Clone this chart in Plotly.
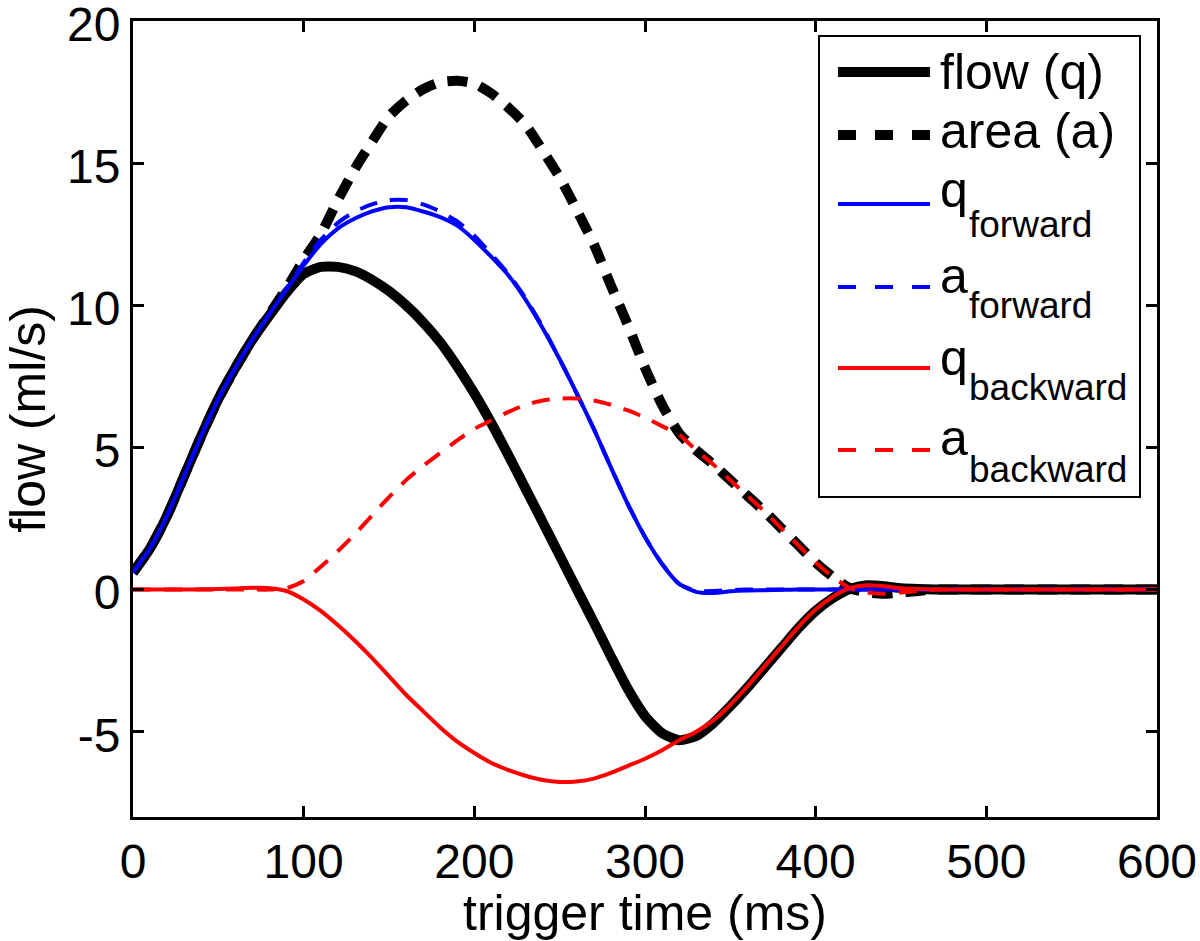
import plotly.graph_objects as go

# trigger time (ms), 10 ms grid
t = list(range(0, 610, 10))

flow_q = [0.6, 1.45, 2.6, 4.0, 5.4, 6.7, 7.8, 8.8, 9.65, 10.45,
          11.1, 11.35, 11.35, 11.2, 10.9, 10.5, 10.0, 9.4, 8.7, 7.85,
          6.9, 5.85, 4.72, 3.55, 2.38, 1.2, 0.02, -1.15, -2.35, -3.5,
          -4.45, -5.05, -5.3, -5.15, -4.7, -4.1, -3.45, -2.75, -2.05, -1.35,
          -0.75, -0.3, 0.02, 0.15, 0.12, 0.05, 0.02, 0, 0, 0,
          0, 0, 0, 0, 0, 0, 0, 0, 0, 0, 0]

area_a = [0.6, 1.45, 2.6, 4.0, 5.4, 6.7, 7.8, 8.8, 9.7, 10.6,
          11.6, 12.5, 13.7, 14.8, 15.75, 16.65, 17.2, 17.6, 17.85, 17.9,
          17.8, 17.45, 16.95, 16.35, 15.45, 14.5, 13.35, 12.15, 10.7, 9.3,
          7.8, 6.5, 5.5, 4.9, 4.4, 3.85, 3.3, 2.75, 2.15, 1.55,
          0.95, 0.45, 0.05, -0.1, -0.15, -0.1, -0.05, 0, 0, 0,
          0, 0, 0, 0, 0, 0, 0, 0, 0, 0, 0]

q_forward = [0.6, 1.45, 2.6, 4.0, 5.4, 6.7, 7.8, 8.8, 9.7, 10.55,
             11.4, 12.15, 12.7, 13.05, 13.3, 13.45, 13.45, 13.3, 13.1, 12.8,
             12.3, 11.7, 11.05, 10.2, 9.2, 8.1, 6.9, 5.65, 4.3, 3.0,
             1.85, 0.9, 0.2, -0.08, -0.12, -0.06, -0.03, -0.02, -0.01, 0,
             0, 0, 0, 0, 0, 0, 0, 0, 0, 0,
             0, 0, 0, 0, 0, 0, 0, 0, 0, 0, 0]

a_forward = [0.6, 1.45, 2.6, 4.0, 5.4, 6.7, 7.8, 8.8, 9.7, 10.6,
             11.5, 12.3, 12.9, 13.3, 13.55, 13.7, 13.7, 13.55, 13.3, 12.95,
             12.45, 11.8, 11.1, 10.25, 9.25, 8.1, 6.9, 5.65, 4.3, 3.0,
             1.85, 0.9, 0.2, -0.05, -0.05, -0.02, 0, 0, 0, 0,
             0, 0, 0, 0, 0, 0, 0, 0, 0, 0,
             0, 0, 0, 0, 0, 0, 0, 0, 0, 0, 0]

q_backward = [0, 0, 0, 0, 0.01, 0.02, 0.04, 0.06, 0.05, -0.05,
              -0.35, -0.75, -1.25, -1.8, -2.4, -3.05, -3.7, -4.28, -4.85, -5.35,
              -5.75, -6.1, -6.35, -6.55, -6.7, -6.77, -6.75, -6.65, -6.45, -6.2,
              -5.95, -5.65, -5.3, -5.0, -4.6, -4.05, -3.4, -2.7, -2.0, -1.3,
              -0.7, -0.25, 0.05, 0.15, 0.12, 0.05, 0.02, 0, 0, 0,
              0, 0, 0, 0, 0, 0, 0, 0, 0, 0, 0]

a_backward = [0, 0, 0, 0, 0, 0, 0, 0, 0, 0.05,
              0.3, 0.8, 1.35, 1.95, 2.6, 3.25, 3.85, 4.35, 4.8, 5.25,
              5.65, 5.95, 6.25, 6.5, 6.65, 6.72, 6.72, 6.65, 6.5, 6.3,
              6.05, 5.75, 5.45, 4.9, 4.4, 3.85, 3.3, 2.75, 2.15, 1.55,
              0.95, 0.45, 0.05, -0.1, -0.15, -0.1, -0.05, 0, 0, 0,
              0, 0, 0, 0, 0, 0, 0, 0, 0, 0, 0]

x_ticks = [0, 100, 200, 300, 400, 500, 600]
y_ticks = [-5, 0, 5, 10, 15, 20]
y_ticktext = ["-5", "0", "5", "10", "15", "20"]

legend_main = ["flow (q)", "area (a)", "q", "a", "q", "a"]
legend_sub = ["", "", "forward", "forward", "backward", "backward"]

FONT = "Liberation Sans, Arial, Helvetica, sans-serif"

# (values, colour, width, dash in plot, dash in legend)
series = [
    (flow_q, "black", 10, "solid", "solid"),
    (area_a, "black", 10, "20px,13px", "18px,19px"),
    (q_forward, "#0000ff", 4, "solid", "solid"),
    (a_forward, "#0000ff", 4, "18px,13px", "18px,19px"),
    (q_backward, "#ff0000", 4, "solid", "solid"),
    (a_backward, "#ff0000", 4, "18px,13px", "18px,19px"),
]

# plot area in page pixels
X0, X1, Y0, Y1 = 133, 1157, 21, 817


def px(x):
    return (x - X0) / (X1 - X0)


def py(y):
    return (Y1 - y) / (Y1 - Y0)


fig = go.Figure()
for (vals, color, width, dash, _), main, sub in zip(series, legend_main, legend_sub):
    name = f"{main}<sub>{sub}</sub>" if sub else main
    fig.add_trace(go.Scatter(
        x=t, y=vals, name=name, mode="lines", showlegend=False,
        line=dict(color=color, width=width, dash=dash, shape="spline", smoothing=0.6),
    ))

# hand-drawn legend (MATLAB style, big subscripts)
line_y = [72, 135, 204, 287, 368, 450]
main_y = [72.5, 130.5, 189.5, 275.5, 357.5, 437.5]
sub_y = [None, None, 224, 305, 387, 469]

shapes = [dict(type="rect", xref="paper", yref="paper",
               x0=px(819), x1=px(1140), y0=py(497), y1=py(36),
               line=dict(color="black", width=2), fillcolor="white", layer="above")]
annotations = []
for i, (vals, color, width, _, ldash) in enumerate(series):
    shapes.append(dict(type="line", xref="paper", yref="paper",
                       x0=px(838), x1=px(930), y0=py(line_y[i]), y1=py(line_y[i]),
                       line=dict(color=color, width=width, dash=ldash), layer="above"))
    annotations.append(dict(text=legend_main[i], xref="paper", yref="paper",
                            x=px(938), y=py(main_y[i]), xanchor="left", yanchor="middle",
                            showarrow=False, font=dict(family=FONT, size=50, color="black")))
    if legend_sub[i]:
        annotations.append(dict(text=legend_sub[i], xref="paper", yref="paper",
                                x=px(967), y=py(sub_y[i]), xanchor="left", yanchor="middle",
                                showarrow=False, font=dict(family=FONT, size=37, color="black")))

axis_common = dict(
    showline=True, linecolor="black", linewidth=3,
    mirror="allticks", ticks="inside", ticklen=11, tickwidth=3, tickcolor="black",
    showgrid=False, zeroline=False, ticklabeloverflow="allow", automargin=False,
    tickfont=dict(family=FONT, size=48, color="black"),
)

fig.update_xaxes(
    range=[0, 600], tickvals=x_ticks,
    title=dict(text="trigger time (ms)", font=dict(family=FONT, size=50, color="black"), standoff=0),
    **axis_common,
)
fig.update_yaxes(
    range=[-8, 20], tickvals=y_ticks, ticktext=y_ticktext, ticklabelshift=3,
    title=dict(text="flow (ml/s)", font=dict(family=FONT, size=50, color="black"), standoff=6),
    **axis_common,
)

fig.update_layout(
    width=1200, height=941,
    margin=dict(l=X0, r=1200 - X1, t=Y0, b=941 - Y1),
    paper_bgcolor="white", plot_bgcolor="white",
    font=dict(family=FONT, size=48, color="black"),
    showlegend=False,
    shapes=shapes,
    annotations=annotations,
)

fig.write_html("out.html", config={"displayModeBar": False},
               post_script="document.body.style.margin='0';")
